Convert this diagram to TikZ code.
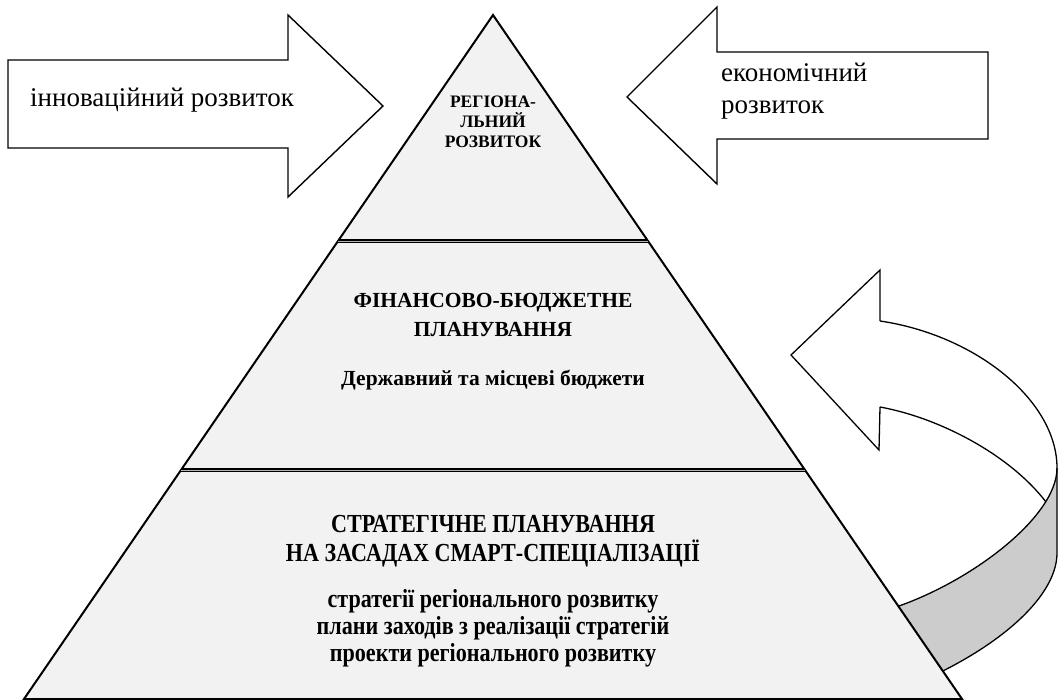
\documentclass[tikz,border=0pt]{standalone}
\usepackage{fontspec}
\setmainfont{Liberation Serif}
\newfontfamily\narrowfont[FakeStretch=0.85]{Liberation Serif}
\usetikzlibrary{calc}

\begin{document}
\begin{tikzpicture}[x=1pt, y=-1pt,
    outline/.style={draw, line width=1.4pt, fill=white},
    ribbon/.style={draw, line width=1.3pt},
    pyr/.style={draw, line width=2pt, fill=black!5},
    divider/.style={draw, line width=1.4pt, double=gray!60, double distance=0.9pt},
    txt/.style={inner sep=0pt, align=center}]
   \useasboundingbox (0,0) rectangle (1060,700);

   \coordinate (H1) at (880,270);
   \coordinate (T) at (791,355);
   \coordinate (H2) at (879,450);
   \coordinate (I0) at (880,407);
   \coordinate (O0) at (880,321);
   \coordinate (R1) at (1057,468);
   \coordinate (R2) at (1057,553);
   \coordinate (J) at (1046,502);
   \coordinate (F) at (880,612);
   \coordinate (B) at (900,690);

   \fill[gray!40] (R1) -- (R2) .. controls (1057,600) and (990,655) .. (B) -- (F) .. controls (960,590) and (1057,520) .. (R1);
   \draw[ribbon] (O0) -- (H1) -- (T) -- (H2) -- (I0);
   \draw[ribbon] (O0) .. controls (975,335) and (1057,400) .. (R1) -- (R2) .. controls (1057,600) and (990,655) .. (B);
   \draw[ribbon] (R1) .. controls (1057,520) and (960,590) .. (F);
   \draw[ribbon] (I0) .. controls (940,418) and (1010,455) .. (J);

   \coordinate (A) at (493,15);
   \coordinate (BL) at (24,699);
   \coordinate (BR) at (962,699);
   \draw[pyr] (A) -- (BL) -- (BR) -- cycle;
   \draw[divider] ($(A)!0.3304!(BL)$) -- ($(A)!0.3304!(BR)$);
   \draw[divider] ($(A)!0.6652!(BL)$) -- ($(A)!0.6652!(BR)$);

   \draw[outline] (8,60) -- (288,60) -- (288,15) -- (383,106) -- (288,197) -- (288,148) -- (8,148) -- cycle;
   \draw[outline] (988,52) -- (717,52) -- (717,7) -- (627,97) -- (717,184) -- (717,139) -- (988,139) -- cycle;

   \node[txt, anchor=base west, font=\fontsize{27}{32}\selectfont] (innov) at (30,107) {інноваційний розвиток};
   \node[txt, anchor=base west, align=left, font=\fontsize{27}{32}\selectfont] (econ) at (721,114) {економічний\\розвиток};
   \node[txt, anchor=base, font=\bfseries\fontsize{17.5}{20}\selectfont] (region) at (493,148) {РЕГІОНА-\\ЛЬНИЙ\\РОЗВИТОК};
   \node[txt, anchor=base, font=\bfseries\fontsize{21.5}{29}\selectfont] (finance) at (493,337) {ФІНАНСОВО-БЮДЖЕТНЕ\\ПЛАНУВАННЯ};
   \node[txt, anchor=base, font=\bfseries\fontsize{21.5}{29}\selectfont] (budget) at (493,385) {Державний та місцеві бюджети};
   \node[txt, anchor=base, font=\narrowfont\bfseries\fontsize{26}{29}\selectfont] (strategy) at (493,561) {СТРАТЕГІЧНЕ ПЛАНУВАННЯ\\НА ЗАСАДАХ СМАРТ-СПЕЦІАЛІЗАЦІЇ};
   \node[txt, anchor=base, font=\narrowfont\bfseries\fontsize{26}{27}\selectfont] (docs) at (493,661) {стратегії регіонального розвитку\\плани заходів з реалізації стратегій\\проекти регіонального розвитку};
\end{tikzpicture}
\end{document}
